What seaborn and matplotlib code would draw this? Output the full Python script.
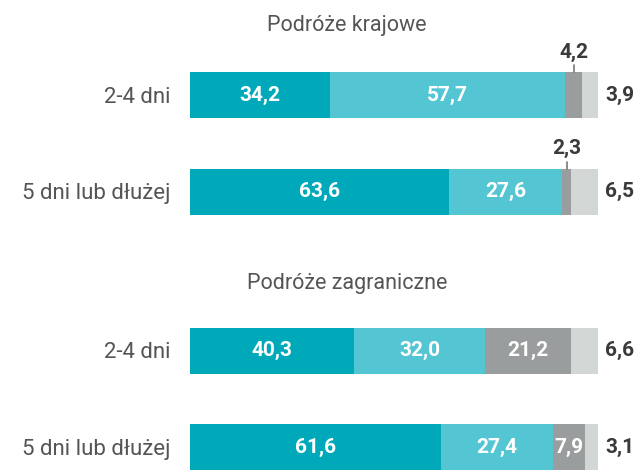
import matplotlib
matplotlib.use("Agg")
import matplotlib.pyplot as plt
import seaborn as sns
import pandas as pd
import numpy as np

# ---- data ----
groups = ["Podróże krajowe", "Podróże zagraniczne"]
categories = ["2-4 dni", "5 dni lub dłużej"]
seg_a = [[34.2, 63.6], [40.3, 61.6]]
seg_b = [[57.7, 27.6], [32.0, 27.4]]
seg_c = [[4.2, 2.3], [21.2, 7.9]]
seg_d = [[3.9, 6.5], [6.6, 3.1]]

colors = ["#00A9BA", "#54C5D2", "#9A9D9E", "#D2D6D5"]
FONT = ["Roboto", "DejaVu Sans"]

sns.set_theme(style="white")
plt.rcParams["font.family"] = FONT

W, H = 637, 470
fig = plt.figure(figsize=(W / 100, H / 100), dpi=100)

def fmt(v):
    return f"{v:.1f}".replace(".", ",")

x0_px, x1_px = 190, 598
spacing = 96.5
bar_px = 46
width = bar_px / spacing
centers = [(95, 191.5), (350.5, 447)]
title_y = [25, 283]

for g in range(2):
    top_px = centers[g][0] - spacing / 2
    ax = fig.add_axes([x0_px / W, (H - (top_px + 2 * spacing)) / H,
                       (x1_px - x0_px) / W, 2 * spacing / H])
    segs = [seg_a[g], seg_b[g], seg_c[g], seg_d[g]]
    cum = np.cumsum(np.array(segs), axis=0)
    # draw from the longest cumulative bar to the shortest
    for k in range(3, -1, -1):
        df = pd.DataFrame({"cat": categories, "val": cum[k]})
        sns.barplot(data=df, x="val", y="cat", orient="h", color=colors[k],
                    saturation=1, width=width, linewidth=0, errorbar=None, ax=ax)
    ax.set_xlim(0, 100)
    ax.set_ylim(1.5, -0.5)
    ax.set_xlabel("")
    ax.set_ylabel("")
    ax.set_xticks([])
    for s in ax.spines.values():
        s.set_visible(False)
    ax.tick_params(axis="y", length=0, pad=14, labelsize=16, labelcolor="#555555")
    for lab in ax.get_yticklabels():
        lab.set_fontfamily(FONT)

    for i in range(2):
        starts = [0] + list(cum[:-1, i])
        for k in range(4):
            v = segs[k][i]
            mid = starts[k] + v / 2
            if k < 2 or (k == 2 and v > 5):
                ax.text(mid, i, fmt(v), ha="center", va="center", color="white",
                        fontsize=15, fontweight="bold", family=FONT)
            elif k == 2:
                top = i - width / 2
                ax.plot([mid, mid], [top, top - 7 / spacing], color="#777777",
                        lw=1.2, clip_on=False)
                ax.text(mid, top - 20 / spacing, fmt(v), ha="center", va="center",
                        color="#3a3a3a", fontsize=15, fontweight="bold",
                        family=FONT, clip_on=False)
            else:
                ax.text((605 - x0_px) / (x1_px - x0_px) * 100, i, fmt(v),
                        ha="left", va="center", color="#3a3a3a", fontsize=15,
                        fontweight="bold", family=FONT, clip_on=False)

    fig.text(347 / W, (H - title_y[g]) / H, groups[g], ha="center", va="center",
             fontsize=15.5, color="#555555", family=FONT)

fig.savefig("out.png", dpi=100)
